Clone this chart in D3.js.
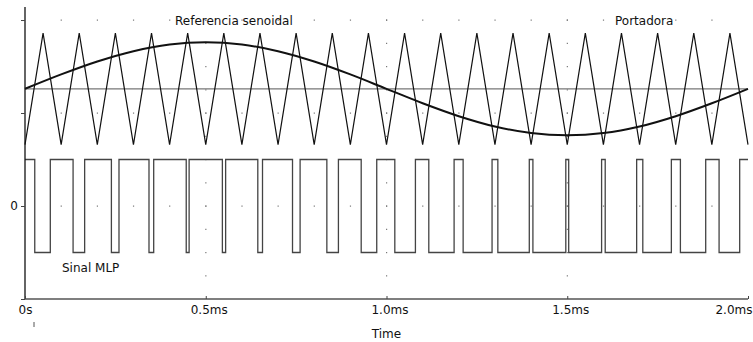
<!DOCTYPE html>
<html>
<head>
<meta charset="utf-8">
<script src="https://cdn.jsdelivr.net/npm/d3@7"></script>
<style>
  body { margin: 0; background: #fff; }
  text { font-family: "DejaVu Sans", sans-serif; font-size: 12px; fill: #111; }
</style>
</head>
<body>
<div id="chart"></div>
<script>
// time axis (ms)
const xTicks = [0, 0.5, 1.0, 1.5, 2.0];
const xTickLabels = ["0s", "0.5ms", "1.0ms", "1.5ms", "2.0ms"];
const yTicks = [-10, 0, 10, 20];

// carrier (triangle) vertices
const carrierTime = [0, 0.05, 0.1, 0.15, 0.2, 0.25, 0.3, 0.35, 0.4, 0.45, 0.5, 0.55, 0.6, 0.65, 0.7, 0.75, 0.8, 0.85, 0.9, 0.95,
                     1.0, 1.05, 1.1, 1.15, 1.2, 1.25, 1.3, 1.35, 1.4, 1.45, 1.5, 1.55, 1.6, 1.65, 1.7, 1.75, 1.8, 1.85, 1.9, 1.95, 2.0];
const carrierValue = [6.6, 18.6, 6.6, 18.6, 6.6, 18.6, 6.6, 18.6, 6.6, 18.6, 6.6, 18.6, 6.6, 18.6, 6.6, 18.6, 6.6, 18.6, 6.6, 18.6,
                      6.6, 18.6, 6.6, 18.6, 6.6, 18.6, 6.6, 18.6, 6.6, 18.6, 6.6, 18.6, 6.6, 18.6, 6.6, 18.6, 6.6, 18.6, 6.6, 18.6, 6.6];

// sinusoidal reference
const refTime = [0, 0.1, 0.2, 0.3, 0.4, 0.5, 0.6, 0.7, 0.8, 0.9, 1.0, 1.1, 1.2, 1.3, 1.4, 1.5, 1.6, 1.7, 1.8, 1.9, 2.0];
const refValue = [12.6, 14.15, 15.54, 16.65, 17.36, 17.6, 17.36, 16.65, 15.54, 14.15, 12.6,
                  11.05, 9.66, 8.55, 7.84, 7.6, 7.84, 8.55, 9.66, 11.05, 12.6];
const centerLevel = 12.6;

// PWM switching instants (starts high)
const pwmEdges = [0.027, 0.070, 0.133, 0.165, 0.239, 0.260, 0.343, 0.356, 0.446, 0.454,
                  0.546, 0.555, 0.644, 0.657, 0.740, 0.761, 0.835, 0.867, 0.930, 0.973,
                  1.023, 1.080, 1.117, 1.187, 1.212, 1.292, 1.308, 1.395, 1.405, 1.496,
                  1.504, 1.595, 1.605, 1.692, 1.709, 1.788, 1.813, 1.883, 1.920, 1.977];
const pwmHigh = 5;
const pwmLow = -5;

const width = 753, height = 342;

const svg = d3.select("#chart").append("svg")
    .attr("width", width)
    .attr("height", height);

const x = d3.scaleLinear().domain([0, 2]).range([25, 748]);
const y = d3.scaleLinear().domain([-10, 21.4]).range([299, 7]);

// dotted grid
const grid = svg.append("g").attr("fill", "#777");
[0, 10, 20].forEach(v => {
    d3.range(1, 20).forEach(i => {
        grid.append("rect").attr("x", x(i / 10) - 0.5).attr("y", y(v) - 0.5).attr("width", 1.2).attr("height", 1.2);
    });
});
[0.5, 1.0, 1.5].forEach(t => {
    d3.range(-3, 9).forEach(i => {
        grid.append("rect").attr("x", x(t) - 0.5).attr("y", y(i * 2.5) - 0.5).attr("width", 1.2).attr("height", 1.2);
    });
});

// center level
svg.append("line")
    .attr("x1", x(0)).attr("x2", x(2))
    .attr("y1", y(centerLevel)).attr("y2", y(centerLevel))
    .attr("stroke", "#777").attr("stroke-width", 1.4);

// carrier
const carrierLine = d3.line().x(d => x(d[0])).y(d => y(d[1]));
svg.append("path")
    .attr("d", carrierLine(carrierTime.map((t, i) => [t, carrierValue[i]])))
    .attr("fill", "none").attr("stroke", "#111").attr("stroke-width", 1.2);

// reference
const refLine = d3.line().x(d => x(d[0])).y(d => y(d[1])).curve(d3.curveMonotoneX);
svg.append("path")
    .attr("d", refLine(refTime.map((t, i) => [t, refValue[i]])))
    .attr("fill", "none").attr("stroke", "#111").attr("stroke-width", 2);

// pwm
let level = pwmHigh;
const pwmPoints = [[0, level]];
pwmEdges.forEach(t => {
    level = level === pwmHigh ? pwmLow : pwmHigh;
    pwmPoints.push([t, level]);
});
pwmPoints.push([2, level]);
const pwmLine = d3.line().x(d => x(d[0])).y(d => y(d[1])).curve(d3.curveStepAfter);
svg.append("path")
    .attr("d", pwmLine(pwmPoints))
    .attr("fill", "none").attr("stroke", "#444").attr("stroke-width", 1.3);

// axes
const yAxis = svg.append("g")
    .attr("transform", "translate(" + x(0) + ",0)")
    .call(d3.axisLeft(y).tickValues(yTicks).tickSize(4).tickPadding(3)
        .tickFormat(d => d === 0 ? "0" : ""));
yAxis.select(".domain").attr("d", "M0," + y(21.4) + "V" + y(-10)).attr("stroke", "#111").attr("stroke-width", 1.3);
yAxis.selectAll(".tick line").attr("stroke", "#444");
yAxis.selectAll(".tick text").style("font-family", "DejaVu Sans").style("font-size", "12px").attr("fill", "#111");

const xAxis = svg.append("g")
    .attr("transform", "translate(0," + y(-10) + ")")
    .call(d3.axisBottom(x).tickValues(xTicks).tickSize(-3).tickPadding(6)
        .tickFormat((d, i) => xTickLabels[i]));
xAxis.select(".domain").attr("d", "M" + x(0) + ",0H" + x(2)).attr("stroke", "#555").attr("stroke-width", 1.5);
xAxis.selectAll(".tick line").attr("stroke", "#444");
xAxis.selectAll(".tick text")
    .style("font-family", "DejaVu Sans").style("font-size", "12px").attr("fill", "#111")
    .attr("dx", (d, i) => i === 0 ? 0 : 3)
    .attr("text-anchor", (d, i) => i === xTicks.length - 1 ? "end" : "middle")
    .attr("x", (d, i) => i === xTicks.length - 1 ? 1 : 0);

svg.append("line")
    .attr("x1", 34).attr("x2", 34).attr("y1", 322).attr("y2", 327)
    .attr("stroke", "#555").attr("stroke-width", 1);

svg.append("text").attr("x", x(1)).attr("y", 338).attr("text-anchor", "middle").text("Time");

// trace labels
svg.append("text").attr("x", 175).attr("y", 25).text("Referencia senoidal");
svg.append("text").attr("x", 615).attr("y", 25).text("Portadora");
svg.append("text").attr("x", 62).attr("y", 272).text("Sinal MLP");
</script>
</body>
</html>
